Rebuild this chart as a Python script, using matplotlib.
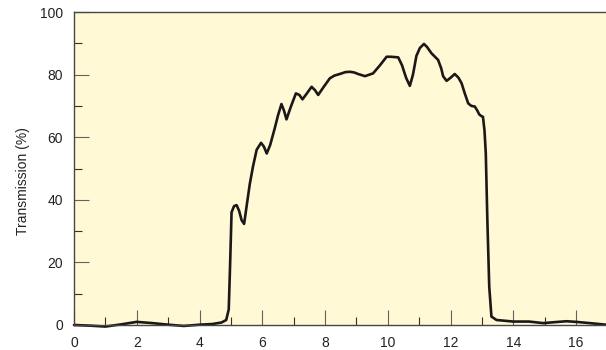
import matplotlib.pyplot as plt
from matplotlib.ticker import MultipleLocator

plt.rcParams['font.family'] = ['Liberation Sans Narrow', 'Liberation Sans', 'DejaVu Sans']

# wavelength (um) vs transmission (%)
wavelength = [0, 0.5, 1.0, 1.5, 2.0, 2.5, 3.0, 3.5, 4.0, 4.4, 4.7, 4.85, 4.93, 4.97, 5.02,
              5.1, 5.18, 5.26, 5.34, 5.42, 5.5, 5.6, 5.7, 5.82, 5.96, 6.05, 6.14, 6.25,
              6.4, 6.5, 6.61, 6.69, 6.77, 6.9, 7.07, 7.18, 7.28, 7.42, 7.57, 7.68, 7.78,
              7.95, 8.15, 8.3, 8.47, 8.65, 8.79, 8.92, 9.05, 9.27, 9.53, 9.75, 9.96, 10.1,
              10.33, 10.45, 10.58, 10.7, 10.8, 10.91, 11.02, 11.15, 11.25, 11.39, 11.6,
              11.7, 11.76, 11.87, 12.0, 12.13, 12.25, 12.35, 12.45, 12.56, 12.66, 12.77,
              12.85, 12.91, 12.97, 13.03, 13.08, 13.12, 13.17, 13.23, 13.3, 13.46, 13.99,
              14.5, 14.95, 15.3, 15.69, 16.0, 16.33, 16.95]
transmission = [0, -0.2, -0.5, 0.2, 1.0, 0.6, 0.1, -0.3, 0.1, 0.3, 0.8, 1.6, 5, 18, 36,
                38, 38.3, 36.5, 33.5, 32.3, 38, 45, 50.5, 56, 58.2, 57, 54.8, 57.5,
                63, 67, 70.6, 68.5, 65.7, 69.5, 74, 73.5, 72.1, 74, 76.1, 75, 73.5,
                76, 78.8, 79.7, 80.2, 80.8, 80.9, 80.7, 80.2, 79.5, 80.4, 83, 85.7, 85.7,
                85.5, 83, 79, 76.4, 80, 86, 88.5, 89.8, 88.8, 86.8, 84.7,
                82, 79.5, 78, 79, 80.2, 79, 77.2, 74, 70.8, 70, 69.8,
                68.5, 67.3, 66.8, 66.5, 62, 54.8, 33.5, 12.2, 2.7, 1.6, 1.1,
                1.1, 0.6, 0.9, 1.2, 1.0, 0.7, 0.1]

fig = plt.figure(figsize=(6.06, 3.5), dpi=100)
ax = fig.add_axes([74/606, 25/350, 1 - 74/606, 313/350])
ax.set_facecolor('#fff9d6')

ax.plot(wavelength, transmission, color='#1c1818', lw=1.9, clip_on=False,
        solid_capstyle='round', solid_joinstyle='round')

ax.set_xlim(0, 16.95)
ax.set_ylim(0, 100)
ax.xaxis.set_major_locator(MultipleLocator(2))
ax.xaxis.set_minor_locator(MultipleLocator(1))
ax.yaxis.set_major_locator(MultipleLocator(20))
ax.yaxis.set_minor_locator(MultipleLocator(10))

ax.tick_params(which='major', direction='in', length=11, width=0.8, color='#666060',
               labelsize=10, pad=8, labelcolor='#222222')
ax.tick_params(which='minor', direction='in', length=5.5, width=0.8, color='#333030')

for s in ['left', 'top', 'bottom']:
    ax.spines[s].set_color('#4a4444')
    ax.spines[s].set_linewidth(1.0)
ax.spines['right'].set_visible(False)

ax.set_ylabel('Transmission (%)', fontsize=10, color='#222222')
ax.yaxis.set_label_coords(-0.082, 0.46)

plt.savefig('out.png', dpi=100)
